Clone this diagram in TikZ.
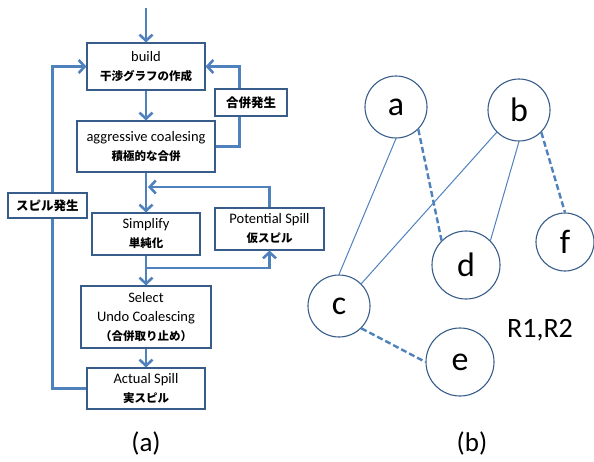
\documentclass[tikz,border=0pt]{standalone}
\usepackage{fontspec}
\setmainfont{Carlito}
\newfontfamily\jp{Noto Sans CJK JP}
\usetikzlibrary{arrows.meta}
\definecolor{flowblue}{RGB}{79,129,189}
\definecolor{rimblue}{RGB}{56,93,138}
\newcommand\jsub[1]{{\jp\bfseries\fontsize{11.5}{19}\selectfont #1}}

\begin{document}
\begin{tikzpicture}[
  x=1pt,y=-1pt,
  stage/.style={draw=rimblue,line width=1.1pt,fill=white,align=center,inner sep=2pt,font=\fontsize{14.5}{19}\selectfont},
  cause/.style={draw=rimblue,line width=1.1pt,fill=white,inner sep=2pt,font=\jp\bfseries\fontsize{12.5}{14}\selectfont},
  flow/.style={flowblue,line width=2.6pt,-{Straight Barb[length=6pt,width=13pt]}},
  vreg/.style={circle,draw=rimblue,line width=1.1pt,fill=white,inner sep=0pt,font=\fontsize{34}{34}\selectfont},
  interf/.style={flowblue,line width=1pt},
  pref/.style={flowblue,line width=2.4pt,dash pattern=on 6pt off 3pt}
]
  \useasboundingbox (0,0) rectangle (594,461);

  % (a) allocation flow
  \coordinate (entry) at (146,8);
  \node[stage,minimum width=118pt,minimum height=47pt] (build) at (146,66.5) {build\\\jsub{干渉グラフの作成}};
  \node[stage,minimum width=138pt,minimum height=51pt] (aggr) at (146,146.5) {aggressive coalesing\\\jsub{積極的な合併}};
  \node[stage,minimum width=108pt,minimum height=42pt] (simp) at (146,234) {Simplify\\\jsub{単純化}};
  \node[stage,minimum width=109pt,minimum height=42pt] (pot) at (269.5,229) {Potential Spill\\\jsub{仮スピル}};
  \node[stage,minimum width=130pt,minimum height=62pt] (sel) at (146,317) {Select\\Undo Coalescing\\\jsub{（合併取り止め）}};
  \node[stage,minimum width=118pt,minimum height=41pt] (act) at (146,388.5) {Actual Spill\\\jsub{実スピル}};
  \coordinate (merge) at (148,187);
  \coordinate (split) at (146,268);

  \draw[flow] (entry) -- (build);
  \draw[flow] (build) -- (aggr);
  \draw[flow] (aggr) -- (simp);
  \draw[flow] (simp) -- (sel);
  \draw[flow] (sel) -- (act);
  \draw[flow] (aggr.east) -| ([xshift=34pt]build.east) -- (build.east);
  \draw[flow] (act.west) -| ([xshift=-34pt]build.west) -- (build.west);
  \draw[flow] (split) -| (pot.south);
  \draw[flow] (pot.north) |- (merge);

  \node[cause,minimum width=72pt,minimum height=27pt] (coal) at (251,102.5) {合併発生};
  \node[cause,minimum width=79pt,minimum height=25pt] (spill) at (47.5,205.5) {スピル発生};

  % (b) interference graph
  \node[vreg,minimum size=62pt] (a) at (396,107) {a};
  \node[vreg,minimum size=62pt] (b) at (519,110) {b};
  \node[vreg,minimum size=58pt] (f) at (565,242) {f};
  \node[vreg,minimum size=68pt] (d) at (466,265) {d};
  \node[vreg,minimum size=62pt] (c) at (339,306) {c};
  \node[vreg,minimum size=68pt] (e) at (460,362) {e};

  \draw[interf] (a.south) -- (c.north);
  \draw[interf] (b.south west) -- (c.north east);
  \draw[interf] (b.south) -- (d.north east);
  \draw[pref] (a.south east) -- (d.north west);
  \draw[pref] (b.south east) -- (f.north);
  \draw[pref] (c.south east) -- (e.west);

  \node[font=\fontsize{28}{30}\selectfont] (regs) at (540,330) {R1,R2};
  \node[font=\fontsize{27}{30}\selectfont] (capa) at (146,443) {(a)};
  \node[font=\fontsize{27}{30}\selectfont] (capb) at (472,443) {(b)};
\end{tikzpicture}
\end{document}
